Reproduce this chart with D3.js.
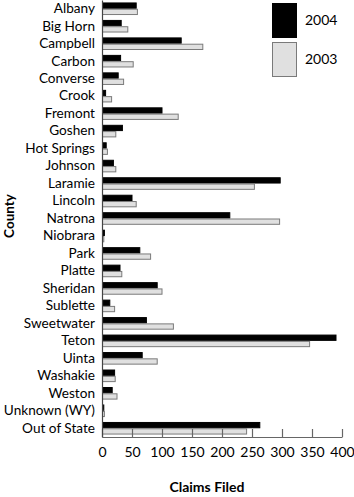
<!DOCTYPE html>
<html>
<head>
<meta charset="utf-8">
<script src="https://cdn.jsdelivr.net/npm/d3@7"></script>
<style>
  body { margin: 0; background: #fff; }
  svg { display: block; }
  text { font-family: Lato, "Open Sans", sans-serif; fill: #000; }
</style>
</head>
<body>
<script>
'use strict';

const counties = ["Albany", "Big Horn", "Campbell", "Carbon", "Converse", "Crook", "Fremont",
    "Goshen", "Hot Springs", "Johnson", "Laramie", "Lincoln", "Natrona", "Niobrara", "Park",
    "Platte", "Sheridan", "Sublette", "Sweetwater", "Teton", "Uinta", "Washakie", "Weston",
    "Unknown (WY)", "Out of State"]
const claims2004 = [57, 32, 132, 31, 27, 6, 100, 34, 7, 19, 297, 50, 213, 4, 63, 30, 92, 13, 74, 390, 67, 21, 17, 3, 263]
const claims2003 = [59, 43, 168, 52, 36, 16, 127, 23, 9, 23, 254, 57, 296, 3, 81, 33, 100, 21, 119, 346, 92, 22, 25, 4, 241]
const years = ["2004", "2003"]
const xTicks = [0, 50, 100, 150, 200, 250, 300, 350, 400]

const measurements = {
    width: 354,
    height: 497,
    left: 102,
    top: 0,
    plotWidth: 240,
    plotHeight: 437
}

const colors = { "2004": "#000000", "2003": "#e0e0e0" }
const strokes = { "2004": "#000000", "2003": "#7a7a7a" }

let svg = d3.select("body").append("svg")
    .attr("width", measurements.width)
    .attr("height", measurements.height)

let rows = counties.map((c, i) => ({ county: c, values: { "2004": claims2004[i], "2003": claims2003[i] } }))

let x = d3.scaleLinear()
    .domain([0, 400])
    .range([measurements.left, measurements.left + measurements.plotWidth])

let y = d3.scaleBand()
    .domain(counties)
    .range([measurements.top, measurements.top + measurements.plotHeight])
    .paddingInner(0.28)
    .paddingOuter(0.14)

let yInner = d3.scaleBand()
    .domain(years)
    .range([0, y.bandwidth()])

// bars
let groups = svg.selectAll("g.row")
    .data(rows)
    .enter()
    .append("g")
    .attr("class", "row")
    .attr("transform", d => "translate(0," + y(d.county) + ")")

groups.selectAll("rect")
    .data(d => years.map(yr => ({ year: yr, value: d.values[yr] })))
    .enter()
    .append("rect")
    .attr("x", x(0) + 0.5)
    .attr("y", d => yInner(d.year) + 0.5)
    .attr("width", d => Math.max(x(d.value) - x(0) - 0.5, 1))
    .attr("height", yInner.bandwidth() - 1)
    .style("fill", d => colors[d.year])
    .style("stroke", d => strokes[d.year])
    .style("stroke-width", 1)

// x axis
let xAxis = d3.axisBottom(x)
    .tickValues(xTicks)
    .tickSizeInner(-8)
    .tickSizeOuter(0)
    .tickPadding(10)

let gx = svg.append("g")
    .attr("transform", "translate(0," + (measurements.top + measurements.plotHeight) + ")")
    .call(xAxis)
gx.select(".domain").attr("stroke", "#666").attr("stroke-width", 1.2)
gx.selectAll(".tick line").attr("stroke", "#666").attr("stroke-width", 1.2)
gx.selectAll(".tick text").style("font-size", "14px").style("font-family", "Lato, sans-serif")

// y axis
let yAxis = d3.axisLeft(y)
    .tickSize(0)
    .tickPadding(7)

let gy = svg.append("g")
    .attr("transform", "translate(" + measurements.left + ",0)")
    .call(yAxis)
gy.select(".domain").attr("stroke", "#444").attr("stroke-width", 1.2)
gy.selectAll(".tick text").style("font-size", "13.6px").style("font-family", "Lato, sans-serif")

// axis titles
svg.append("text")
    .attr("x", 207)
    .attr("y", 492)
    .attr("text-anchor", "middle")
    .style("font-size", "14px")
    .style("font-weight", "bold")
    .text("Claims Filed")

svg.append("text")
    .attr("transform", "translate(14,216) rotate(-90)")
    .attr("text-anchor", "middle")
    .style("font-size", "13.5px")
    .style("font-weight", "bold")
    .text("County")

// legend
let legend = svg.selectAll("g.legend")
    .data(years)
    .enter()
    .append("g")
    .attr("class", "legend")
    .attr("transform", (d, i) => "translate(272," + (3 + i * 39) + ")")

legend.append("rect")
    .attr("x", 0.5)
    .attr("y", 0.5)
    .attr("width", 24)
    .attr("height", 34)
    .style("fill", d => colors[d])
    .style("stroke", d => strokes[d])

legend.append("text")
    .attr("x", 33)
    .attr("y", 22)
    .style("font-size", "14px")
    .text(d => d)
</script>
</body>
</html>
